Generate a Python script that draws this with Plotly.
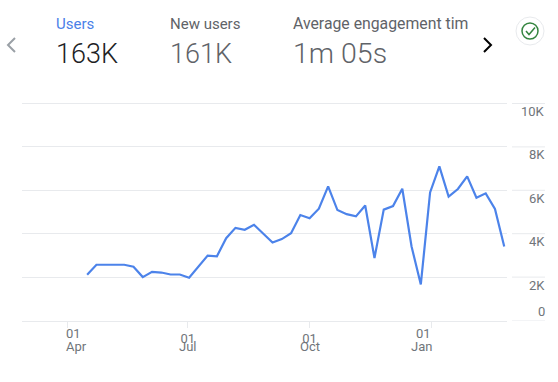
import plotly.graph_objects as go

W, H = 558, 382
dates = ["2022-04-16","2022-04-23","2022-04-30","2022-05-07","2022-05-14","2022-05-21","2022-05-28","2022-06-04","2022-06-11","2022-06-18","2022-06-25","2022-07-02","2022-07-09","2022-07-16","2022-07-23","2022-07-30","2022-08-06","2022-08-13","2022-08-20","2022-08-27","2022-09-03","2022-09-10","2022-09-17","2022-09-24","2022-10-01","2022-10-08","2022-10-15","2022-10-22","2022-10-29","2022-11-05","2022-11-12","2022-11-19","2022-11-26","2022-12-03","2022-12-10","2022-12-17","2022-12-24","2022-12-31","2023-01-07","2023-01-14","2023-01-21","2023-01-28","2023-02-04","2023-02-11","2023-02-18","2023-02-25"]
users = [2110,2570,2570,2570,2570,2480,2000,2240,2210,2120,2120,1970,2470,2990,2960,3790,4270,4180,4410,3990,3590,3750,4020,4860,4710,5150,6180,5090,4900,4800,5300,2880,5110,5270,6070,3410,1660,5900,7100,5710,6060,6640,5660,5860,5140,3410]
tickvals = ["2022-04-01","2022-07-01","2022-10-01","2023-01-01"]
ticktext = ["","01","01",""]
months = ["Apr","Jul","Oct","Jan"]
yticks = [0,2000,4000,6000,8000,10000]
ylabels = ["0","2K","4K","6K","8K","10K"]
metric_names = ["Users","New users","Average engagement tim"]
metric_values = ["163K","161K","1m 05s"]

L, R, T, B = 22, 507, 98.5, 320.5
GRID, MUTED, TICK = "#e8eaed", "#5f6368", "#70757a"
px = lambda x: x / W
py = lambda y: 1 - y / H

fig = go.Figure(go.Scatter(x=dates, y=users, mode="lines", line=dict(color="#4c83ea", width=2.2), hoverinfo="skip"))
fig.update_layout(
    width=W, height=H, margin=dict(l=0, r=0, t=0, b=0), paper_bgcolor="white", plot_bgcolor="white", showlegend=False,
    font=dict(family="Roboto", color=MUTED),
    xaxis=dict(domain=[px(L), px(R)], range=["2022-02-25 19:00", "2023-02-27 02:00"], type="date", tickmode="array",
               tickvals=tickvals, ticktext=ticktext, ticks="outside", ticklen=6, tickcolor=GRID, showgrid=False,
               showline=True, linecolor=GRID, zeroline=False, tickangle=0, tickfont=dict(size=13, color=TICK)),
    yaxis=dict(domain=[py(B), py(T)], range=[0, 10230], tickvals=yticks, showticklabels=False, gridcolor=GRID, gridwidth=1,
               zeroline=False, showline=False),
)
fig.add_annotation(x=tickvals[0], xref="x", y=py(333), yref="paper", text="01", xanchor="left", yanchor="middle",
                   showarrow=False, font=dict(size=13, color=TICK), xshift=-3)
fig.add_annotation(x=tickvals[3], xref="x", y=py(333), yref="paper", text="01", xanchor="center", yanchor="middle",
                   showarrow=False, font=dict(size=13, color=TICK), xshift=-8)
month_shift = [-3, 0, 0, -10]
for i, (d, m) in enumerate(zip(tickvals, months)):
    fig.add_annotation(x=d, xref="x", y=py(346.5), yref="paper", text=m, xanchor="left" if i == 0 else "center", yanchor="middle",
                       showarrow=False, font=dict(size=13, color=TICK), xshift=month_shift[i])
for v, t in zip(yticks, ylabels):
    fig.add_shape(type="line", xref="paper", x0=px(512), x1=px(545), yref="y", y0=v, y1=v, line=dict(color=GRID, width=1))
    fig.add_annotation(xref="paper", x=px(547), y=v, yref="y", yshift=-8 if v else 9, text=t, showarrow=False, xanchor="right", yanchor="middle",
                       font=dict(size=13, color=TICK))

xs = [56, 170, 293]
name_sizes = [15, 15, 15.8]
value_sizes = [27, 27, 28.5]
cols_name = ["#4a80e8", MUTED, MUTED]
cols_val = ["#202124", MUTED, MUTED]
for x, n, v, c1, c2, s, vs in zip(xs, metric_names, metric_values, cols_name, cols_val, name_sizes, value_sizes):
    fig.add_annotation(xref="paper", yref="paper", x=px(x), y=py(24), text=n, showarrow=False, xanchor="left", yanchor="middle", xshift=-2,
                       font=dict(size=s, color=c1))
    fig.add_annotation(xref="paper", yref="paper", x=px(x), y=py(54), text=v, showarrow=False, xanchor="left", yanchor="middle", xshift=-2,
                       font=dict(size=vs, color=c2, weight=300))

def path(pts):
    return "M" + " L".join(f"{px(a):.5f},{py(b):.5f}" for a, b in pts)
for pts, col in [([(15, 38), (8, 45), (15, 52)], "#9aa0a6"), ([(484, 38), (491, 45), (484, 52)], "#000000")]:
    fig.add_shape(type="path", xref="paper", yref="paper", path=path(pts), line=dict(color=col, width=2))
fig.add_shape(type="circle", xref="paper", yref="paper", x0=px(516), x1=px(544), y0=py(45), y1=py(17), line=dict(color="#e8eaed", width=1))
fig.add_shape(type="circle", xref="paper", yref="paper", x0=px(522), x1=px(538), y0=py(39), y1=py(23), line=dict(color="#34853f", width=1.5))
fig.add_shape(type="path", xref="paper", yref="paper", path=path([(526, 31), (529, 34.5), (535, 27.5)]), line=dict(color="#34853f", width=1.5))
fig.write_html("out.html", post_script="document.body.style.margin='0';", config={"displayModeBar": False})
